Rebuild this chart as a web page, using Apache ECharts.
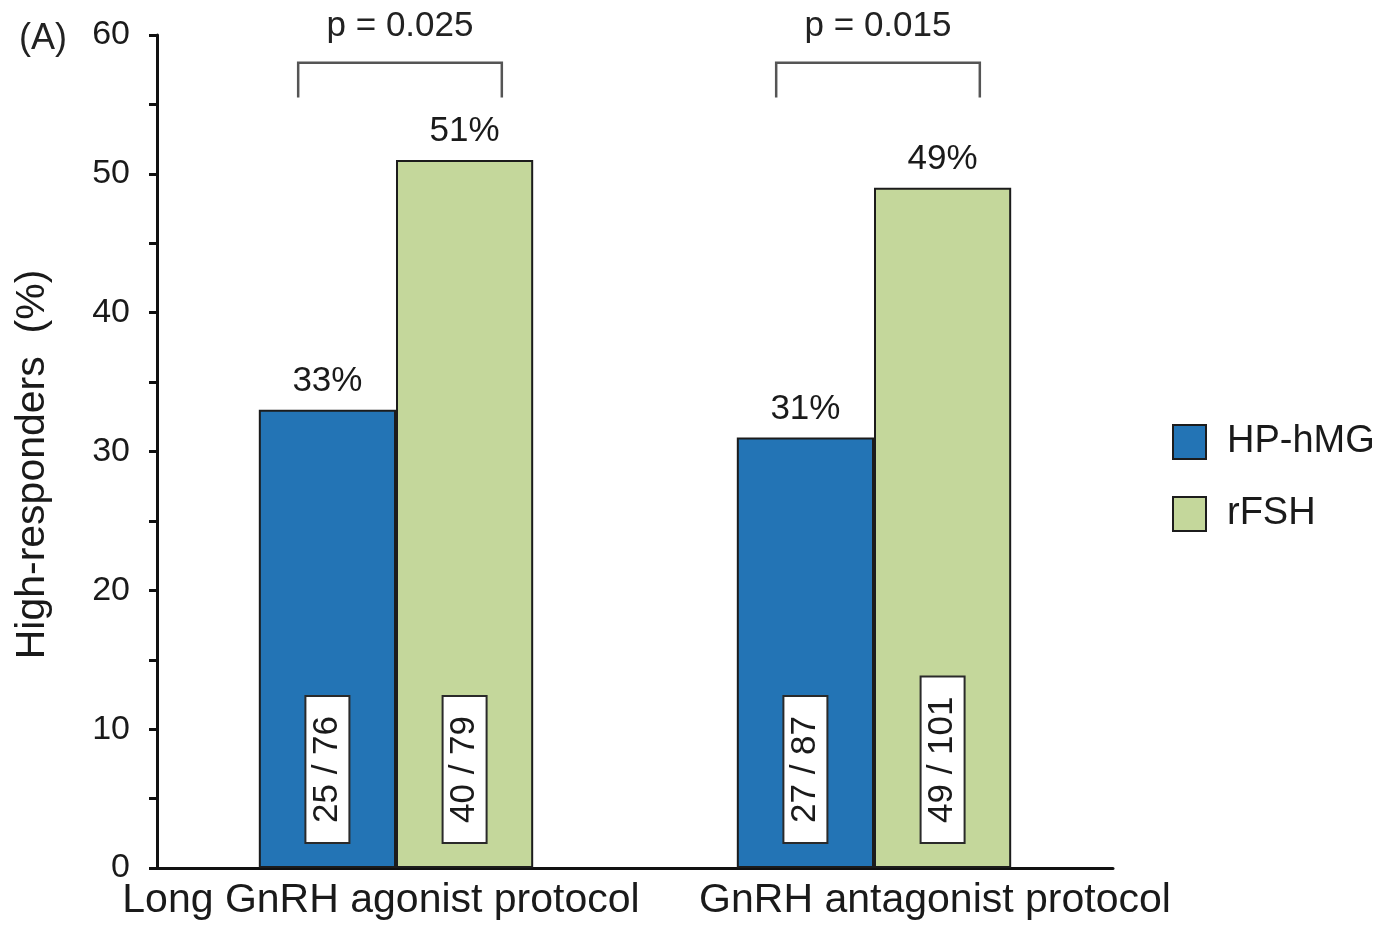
<!DOCTYPE html>
<html>
<head>
<meta charset="utf-8">
<script src="https://cdn.jsdelivr.net/npm/echarts@6/dist/echarts.min.js"></script>
<style>
  html, body { margin: 0; padding: 0; background: #ffffff; }
  #chart { width: 1387px; height: 933px; }
</style>
</head>
<body>
<div id="chart"></div>
<script>
// Protocol groups along the x axis
const categories = ['Long GnRH agonist protocol', 'GnRH antagonist protocol'];
// Share of high-responders (%) per protocol
const hpHmgValues = [33, 31];
const rfshValues = [51, 49];
// Patient counts (high-responders / total) per bar
const hpHmgCounts = ['25 / 76', '27 / 87'];
const rfshCounts = ['40 / 79', '49 / 101'];
// Between-arm p-values per protocol
const pValues = ['p = 0.025', 'p = 0.015'];
// Y axis ticks
const yTicks = [0, 10, 20, 30, 40, 50, 60];

const BLUE = '#2374b5';
const GREEN = '#c4d79b';
const EDGE = '#1c1c1c';
const FONT = 'Liberation Sans, Arial, sans-serif';
const BAR_FRAC = 0.287;          // bar width as a share of the category band

const chart = echarts.init(document.getElementById('chart'));

// Count boxes sit near the foot of each bar, text reading upwards
const countData = [];
categories.forEach((c, i) => {
  countData.push([i, 0, hpHmgCounts[i]]);
  countData.push([i, 1, rfshCounts[i]]);
});

function renderCount(params, api) {
  const cat = api.value(0);
  const side = api.value(1) === 0 ? -1 : 1;
  const base = api.coord([cat, 0]);
  const band = api.size([1, 0])[0];
  const x = base[0] + side * band * BAR_FRAC / 2;
  return {
    type: 'text',
    x: x,
    y: base[1] - 26,
    rotation: Math.PI / 2,
    style: {
      text: countData[params.dataIndex][2],
      font: '35px ' + FONT,
      fill: '#1a1a1a',
      align: 'left',
      verticalAlign: 'middle',
      backgroundColor: '#ffffff',
      borderColor: '#2a2a2a',
      borderWidth: 2,
      padding: [3, 19, 3, 19],
      lineHeight: 36
    }
  };
}

// Significance brackets spanning both bars of a protocol
const bracketData = categories.map((c, i) => [i, pValues[i]]);

function renderBracket(params, api) {
  const cat = api.value(0);
  const band = api.size([1, 0])[0];
  const top = api.coord([cat, 58]);
  const low = api.coord([cat, 55.5]);
  const half = band * 0.213;
  const cx = top[0] + 4;
  return {
    type: 'group',
    children: [
      {
        type: 'polyline',
        shape: {
          points: [[cx - half, low[1]], [cx - half, top[1]], [cx + half, top[1]], [cx + half, low[1]]]
        },
        style: { stroke: '#555555', lineWidth: 2.5, fill: null }
      },
      {
        type: 'text',
        x: cx,
        y: top[1] - 36,
        style: {
          text: bracketData[params.dataIndex][1],
          font: '35px ' + FONT,
          fill: '#222222',
          align: 'center',
          verticalAlign: 'middle'
        }
      }
    ]
  };
}

const option = {
  backgroundColor: '#ffffff',
  animation: false,
  textStyle: { fontFamily: FONT },
  title: {
    text: '(A)',
    left: 14,
    top: 16,
    textStyle: { fontSize: 36, fontWeight: 'normal', color: '#222222', fontFamily: FONT }
  },
  grid: { left: 157, right: 274, top: 35, bottom: 65, containLabel: false },
  legend: {
    orient: 'vertical',
    left: 1167,
    top: 418,
    itemWidth: 33,
    itemHeight: 34,
    itemGap: 34,
    icon: 'rect',
    data: ['HP-hMG', 'rFSH'],
    textStyle: { fontSize: 38, color: '#1a1a1a', fontFamily: FONT, padding: [0, 0, 0, 16] }
  },
  xAxis: {
    type: 'category',
    data: categories,
    axisLine: { lineStyle: { color: '#111111', width: 3 } },
    axisTick: { show: false },
    axisLabel: {
      interval: 0,
      hideOverlap: false,
      margin: 12,
      color: '#1a1a1a',
      fontSize: 41,
      fontFamily: FONT,
      formatter: (v, i) => (i === 0 ? '{a|' + v + '}' : '{b|' + v + '}'),
      rich: {
        a: { fontSize: 41, fontFamily: FONT, color: '#1a1a1a', padding: [0, 30, 0, 0] },
        b: { fontSize: 41, fontFamily: FONT, color: '#1a1a1a', padding: [0, 0, 0, 122] }
      }
    }
  },
  yAxis: {
    type: 'value',
    min: yTicks[0],
    max: yTicks[yTicks.length - 1],
    interval: 10,
    name: 'High-responders  (%)',
    nameLocation: 'middle',
    nameGap: 104,
    nameRotate: 90,
    nameTextStyle: { fontSize: 41, color: '#1a1a1a', fontFamily: FONT, padding: [0, 26, 0, 0] },
    axisLine: { show: true, lineStyle: { color: '#111111', width: 3 } },
    axisTick: { show: true, length: 8, lineStyle: { color: '#111111', width: 3 } },
    minorTick: { show: true, splitNumber: 2, length: 8, lineStyle: { color: '#111111', width: 3 } },
    splitLine: { show: false },
    axisLabel: { margin: 27, fontSize: 34, color: '#1a1a1a', fontFamily: FONT }
  },
  series: [
    {
      name: 'HP-hMG',
      type: 'bar',
      data: hpHmgValues,
      barWidth: (BAR_FRAC * 100) + '%',
      barGap: '0%',
      itemStyle: { color: BLUE, borderColor: EDGE, borderWidth: 2 },
      label: { show: true, position: 'top', distance: 11, formatter: '{c}%', fontSize: 35, color: '#1a1a1a', fontFamily: FONT }
    },
    {
      name: 'rFSH',
      type: 'bar',
      data: rfshValues,
      barWidth: (BAR_FRAC * 100) + '%',
      barGap: '0%',
      itemStyle: { color: GREEN, borderColor: EDGE, borderWidth: 2 },
      label: { show: true, position: 'top', distance: 11, formatter: '{c}%', fontSize: 35, color: '#1a1a1a', fontFamily: FONT }
    },
    {
      name: 'counts',
      type: 'custom',
      data: countData,
      renderItem: renderCount,
      clip: false,
      z: 5,
      silent: true
    },
    {
      name: 'brackets',
      type: 'custom',
      data: bracketData,
      renderItem: renderBracket,
      clip: false,
      z: 5,
      silent: true
    }
  ]
};

chart.setOption(option);
</script>
</body>
</html>
